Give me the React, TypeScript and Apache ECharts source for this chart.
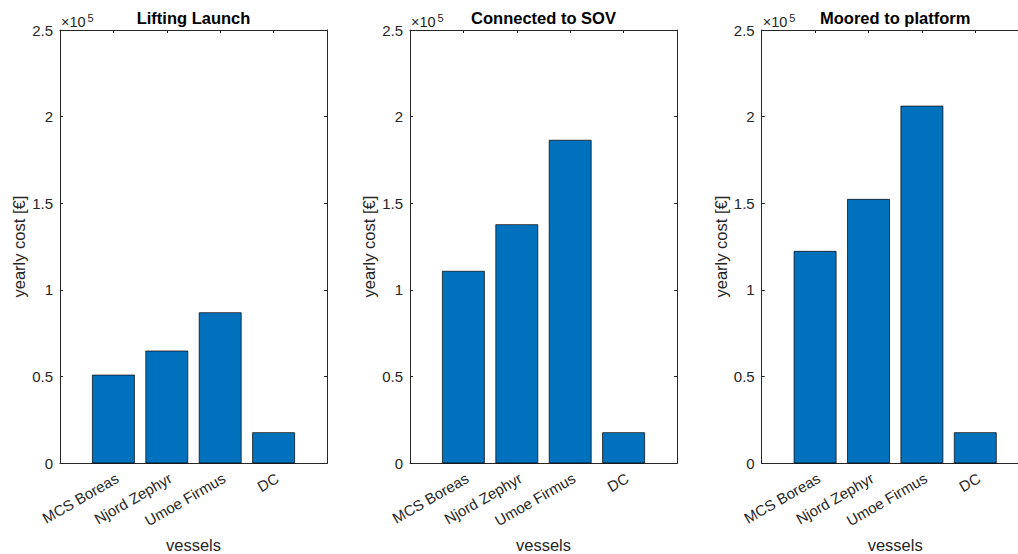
import React, { useEffect, useRef } from "react";
import * as echarts from "echarts";

const vessels = ["MCS Boreas", "Njord Zephyr", "Umoe Firmus", "DC"];
const titles = ["Lifting Launch", "Connected to SOV", "Moored to platform"];
const liftingLaunch = [51100, 65000, 87100, 17900];
const connectedToSOV = [111000, 137900, 186600, 17900];
const mooredToPlatform = [122500, 152500, 206300, 17900];
const seriesValues = [liftingLaunch, connectedToSOV, mooredToPlatform];
const yTicks = [0, 50000, 100000, 150000, 200000, 250000];
const yLabel = "yearly cost [€]";
const xLabel = "vessels";

const gridLefts = [60, 410, 761.7];
const gridWidth = 267;
const gridTop = 30;
const gridHeight = 433.3;
const axisColor = "#262626";
const font = "Liberation Sans, Arial, Helvetica, sans-serif";

export default function App() {
  const ref = useRef<HTMLDivElement>(null);
  useEffect(() => {
    if (!ref.current) return;
    const chart = echarts.init(ref.current, undefined, { renderer: "svg" });
    const grids: any[] = [];
    const xAxes: any[] = [];
    const yAxes: any[] = [];
    const series: any[] = [];
    const graphics: any[] = [];
    const unit = gridWidth / 5;
    seriesValues.forEach((vals, i) => {
      const left = gridLefts[i];
      grids.push({ left, top: gridTop, width: gridWidth, height: gridHeight, containLabel: false });
      const lineStyle = { color: axisColor, width: 1 };
      xAxes.push({
        type: "value",
        gridIndex: i,
        min: 0,
        max: 5,
        interval: 1,
        position: "bottom",
        axisLine: { show: true, onZero: false, lineStyle },
        axisTick: { show: true, inside: true, length: 3, lineStyle },
        splitLine: { show: false },
        axisLabel: {
          show: true,
          rotate: 30,
          margin: 7,
          verticalAlign: "top",
          color: axisColor,
          fontSize: 15,
          fontFamily: font,
          formatter: (v: number) => (v >= 1 && v <= 4 ? vessels[v - 1] : ""),
        },
      });
      xAxes.push({
        type: "value",
        gridIndex: i,
        min: 0,
        max: 5,
        interval: 1,
        position: "top",
        axisLine: { show: true, onZero: false, lineStyle },
        axisTick: { show: true, inside: true, length: 3, lineStyle },
        splitLine: { show: false },
        axisLabel: { show: false },
      });
      yAxes.push({
        type: "value",
        gridIndex: i,
        min: yTicks[0],
        max: yTicks[yTicks.length - 1],
        interval: 50000,
        position: "left",
        axisLine: { show: true, onZero: false, lineStyle },
        axisTick: { show: true, inside: true, length: 3, lineStyle },
        splitLine: { show: false },
        axisLabel: {
          show: true,
          margin: 7,
          color: axisColor,
          fontSize: 15,
          fontFamily: font,
          formatter: (v: number) => String(v / 100000),
        },
      });
      yAxes.push({
        type: "value",
        gridIndex: i,
        min: yTicks[0],
        max: yTicks[yTicks.length - 1],
        interval: 50000,
        position: "right",
        axisLine: { show: true, onZero: false, lineStyle },
        axisTick: { show: true, inside: true, length: 3, lineStyle },
        splitLine: { show: false },
        axisLabel: { show: false },
      });
      series.push({
        type: "bar",
        xAxisIndex: i * 2,
        yAxisIndex: i * 2,
        barWidth: unit * 0.8,
        itemStyle: { color: "#0072BD", borderColor: "#000000", borderWidth: 0.7 },
        data: vals.map((v, k) => [k + 1, v]),
      });
      const cx = left + gridWidth / 2;
      graphics.push({
        type: "text",
        x: cx,
        y: 18,
        style: {
          text: titles[i],
          fontSize: 16.5,
          fontWeight: "bold",
          fontFamily: font,
          fill: "#000000",
          align: "center",
          verticalAlign: "middle",
        },
      });
      graphics.push({
        type: "text",
        x: left + 1,
        y: 29,
        style: {
          text: "×10",
          fontSize: 14.5,
          fontFamily: font,
          fill: axisColor,
          align: "left",
          verticalAlign: "bottom",
        },
      });
      graphics.push({
        type: "text",
        x: left + 27.5,
        y: 23,
        style: {
          text: "5",
          fontSize: 11,
          fontFamily: font,
          fill: axisColor,
          align: "left",
          verticalAlign: "bottom",
        },
      });
      graphics.push({
        type: "text",
        x: left - 41,
        y: gridTop + gridHeight / 2,
        rotation: Math.PI / 2,
        style: {
          text: yLabel,
          fontSize: 16.5,
          fontFamily: font,
          fill: axisColor,
          align: "center",
          verticalAlign: "middle",
        },
      });
      graphics.push({
        type: "text",
        x: cx,
        y: 545,
        style: {
          text: xLabel,
          fontSize: 16.5,
          fontFamily: font,
          fill: axisColor,
          align: "center",
          verticalAlign: "middle",
        },
      });
    });
    chart.setOption({
      animation: false,
      backgroundColor: "#ffffff",
      grid: grids,
      xAxis: xAxes,
      yAxis: yAxes,
      series,
      graphic: graphics,
    });
    return () => chart.dispose();
  }, []);
  return (
    <div
      style={{ position: "absolute", left: 0, top: 0, width: 1018, height: 554, overflow: "hidden" }}
    >
      <div ref={ref} style={{ width: 1040, height: 554 }} />
    </div>
  );
}
